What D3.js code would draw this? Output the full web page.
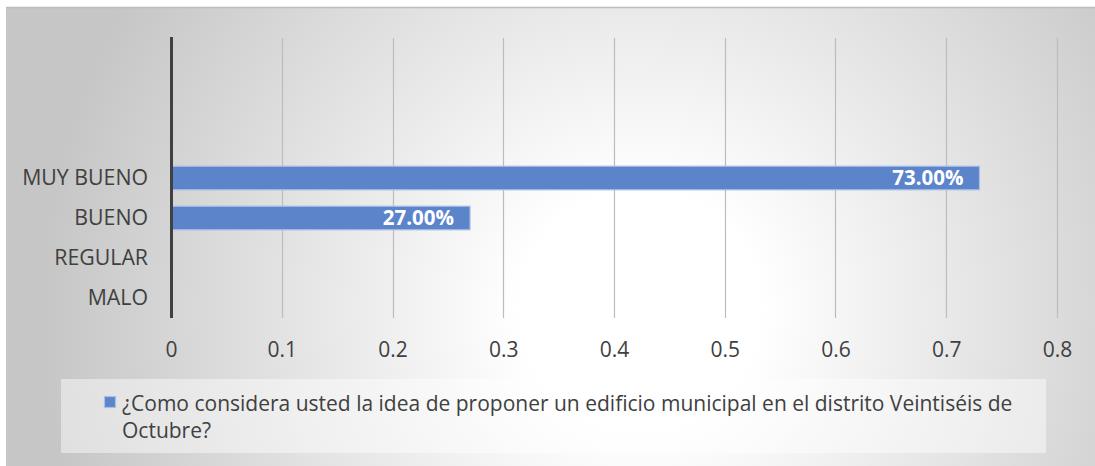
<!DOCTYPE html>
<html>
<head>
<meta charset="utf-8">
<script src="https://cdn.jsdelivr.net/npm/d3@7"></script>
<style>
  html, body { margin: 0; padding: 0; background: #ffffff; }
  svg { display: block; }
  text { font-family: "Open Sans", "Noto Sans", sans-serif; }
</style>
</head>
<body>
<svg id="chart" width="1095" height="466"></svg>
<script>
// ---- data ----
const categories = ["MUY BUENO", "BUENO", "REGULAR", "MALO"]; // top to bottom
const values = [0.73, 0.27, 0, 0];
const emptySlots = 3; // blank category rows above the first bar
const xTicks = [0, 0.1, 0.2, 0.3, 0.4, 0.5, 0.6, 0.7, 0.8];
const seriesName = "¿Como considera usted la idea de proponer un edificio municipal en el distrito Veintiséis de Octubre?";
const legendLines = ["¿Como considera usted la idea de proponer un edificio municipal en el distrito Veintiséis de", "Octubre?"];

const W = 1095, H = 466;
const svg = d3.select("#chart");
const defs = svg.append("defs");

const grad = defs.append("radialGradient")
  .attr("id", "bg").attr("gradientUnits", "userSpaceOnUse")
  .attr("cx", 640).attr("cy", 310).attr("r", 600);
grad.append("stop").attr("offset", 0).attr("stop-color", "#ffffff");
grad.append("stop").attr("offset", 0.2).attr("stop-color", "#ffffff");
grad.append("stop").attr("offset", 1).attr("stop-color", "#c6c6c6");

// chart background
svg.append("rect").attr("x", 6).attr("y", 7).attr("width", W - 6).attr("height", H - 7)
  .attr("fill", "url(#bg)");
svg.append("line").attr("x1", 6).attr("x2", W).attr("y1", 7.5).attr("y2", 7.5)
  .attr("stroke", "#bdbdbd").attr("stroke-width", 1.5);

const plot = { left: 171, right: 1057, top: 38, bottom: 318 };

const x = d3.scaleLinear().domain([0, 0.8]).range([plot.left, plot.right]);
const slotKeys = d3.range(emptySlots + categories.length); // 0..6 top->bottom
const y = d3.scaleBand().domain(slotKeys).range([plot.top, plot.bottom]).paddingInner(0.41).paddingOuter(0.205);
const labelOf = i => i < emptySlots ? "" : categories[i - emptySlots];

// gridlines
svg.append("g").selectAll("line").data(xTicks.filter(t => t > 0)).join("line")
  .attr("x1", d => Math.round(x(d)) + 0.5).attr("x2", d => Math.round(x(d)) + 0.5)
  .attr("y1", plot.top).attr("y2", plot.bottom)
  .attr("stroke", "#bcbcbc").attr("stroke-width", 1.2);

// x axis tick labels
const xAxis = d3.axisBottom(x).tickValues(xTicks).tickFormat(d => d3.format("")(d)).tickSize(0).tickPadding(0);
const gx = svg.append("g").attr("transform", `translate(0,${plot.bottom + 39})`).call(xAxis);
gx.select(".domain").remove();
gx.selectAll("text").attr("font-size", 21).attr("fill", "#404040").attr("dy", "0")
  .style("font-family", "'Open Sans', sans-serif");

// y axis labels
const yAxis = d3.axisLeft(y).tickFormat(labelOf).tickSize(0).tickPadding(23);
const gy = svg.append("g").attr("transform", `translate(${plot.left},0)`).call(yAxis);
gy.select(".domain").remove();
gy.selectAll("text").attr("font-size", 21.3).attr("fill", "#404040")
  .style("font-family", "'Open Sans', sans-serif");

// bars
const rows = categories.map((c, i) => ({ key: i + emptySlots, value: values[i] }));
svg.append("g").selectAll("rect").data(rows.filter(d => d.value > 0)).join("rect")
  .attr("x", x(0)).attr("y", d => y(d.key))
  .attr("width", d => x(d.value) - x(0)).attr("height", y.bandwidth())
  .attr("fill", "#5b84cb").attr("stroke", "#a9bfe6").attr("stroke-width", 1.2);

// data labels
svg.append("g").selectAll("text").data(rows.filter(d => d.value > 0)).join("text")
  .attr("x", d => x(d.value) - 16).attr("y", d => y(d.key) + y.bandwidth() / 2)
  .attr("dy", "0.36em").attr("text-anchor", "end")
  .attr("font-size", 20.5).attr("font-weight", "bold").attr("fill", "#ffffff")
  .text(d => d3.format(".2%")(d.value));

// vertical axis line
svg.append("line").attr("x1", plot.left + 0.5).attr("x2", plot.left + 0.5)
  .attr("y1", plot.top - 1).attr("y2", plot.bottom)
  .attr("stroke", "#404040").attr("stroke-width", 3);

// legend
const lg = svg.append("g");
lg.append("rect").attr("x", 61).attr("y", 379).attr("width", 985).attr("height", 74)
  .attr("fill", "#ffffff").attr("fill-opacity", 0.45);
lg.append("rect").attr("x", 104.5).attr("y", 396.5).attr("width", 11).attr("height", 11)
  .attr("fill", "#5b84cb").attr("stroke", "#a9bfe6").attr("stroke-width", 1.2);
lg.append("text").attr("font-size", 21).attr("fill", "#404040")
  .selectAll("tspan").data(legendLines).join("tspan")
  .attr("x", 122).attr("y", (d, i) => 411 + i * 27).text(d => d);
</script>
</body>
</html>
